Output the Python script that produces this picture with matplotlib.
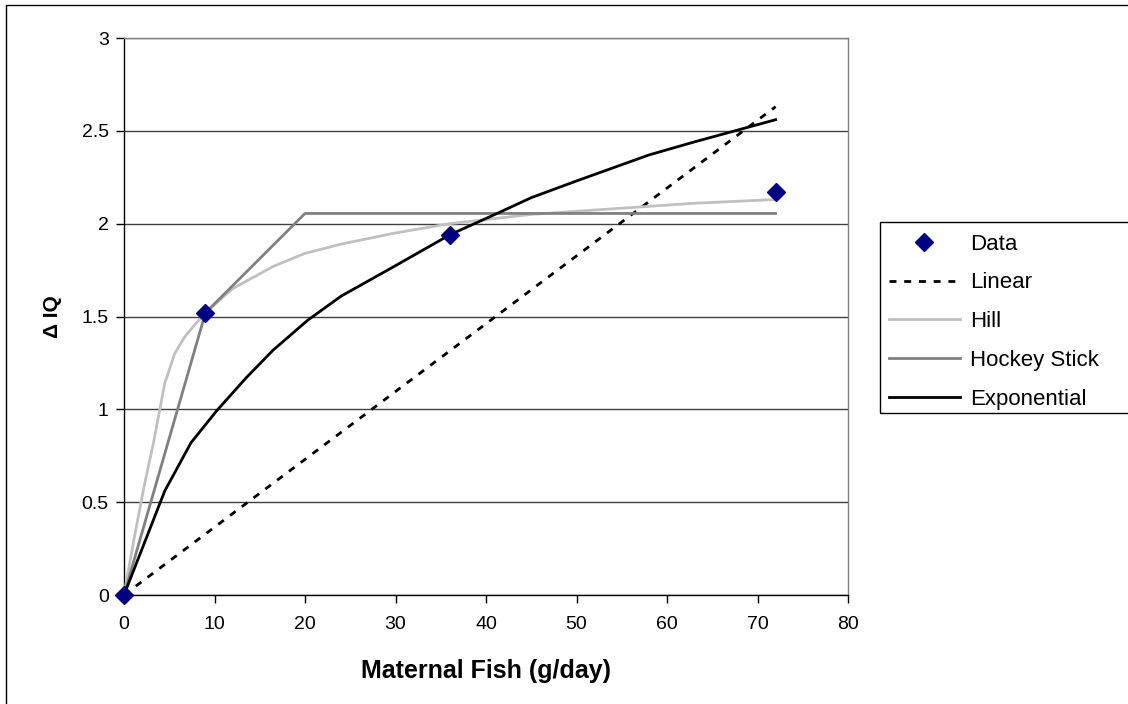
import matplotlib
matplotlib.use("Agg")
import matplotlib.pyplot as plt
from matplotlib.patches import Rectangle

plt.rcParams['font.family'] = ['Liberation Sans', 'DejaVu Sans']

# Observed fish intake vs. IQ change
data_x = [0, 9, 36, 72]
data_y = [0, 1.52, 1.94, 2.17]

# Linear model
linear_x = [0, 72]
linear_y = [0, 2.63]

# Hill model
hill_x = [0, 1.1, 2.2, 3.3, 4.5, 5.6, 6.7, 7.9, 9, 12, 16.5, 20, 24, 30, 36, 45, 54, 63, 72]
hill_y = [0, 0.30, 0.58, 0.83, 1.14, 1.30, 1.39, 1.46, 1.52, 1.65, 1.77, 1.84, 1.89, 1.95, 2.00, 2.05, 2.08, 2.11, 2.13]

# Hockey stick model
hockey_x = [0, 9, 20, 36, 72]
hockey_y = [0, 1.52, 2.055, 2.055, 2.055]

# Exponential model
expo_x = [0, 4.5, 7.4, 10.2, 13.5, 16.5, 20.3, 24, 29.5, 36, 41, 45, 50, 54, 58, 63, 67.5, 72]
expo_y = [0, 0.56, 0.82, 0.99, 1.17, 1.32, 1.48, 1.61, 1.76, 1.94, 2.05, 2.14, 2.23, 2.30, 2.37, 2.44, 2.50, 2.56]

x_ticks = [0, 10, 20, 30, 40, 50, 60, 70, 80]
y_ticks = [0, 0.5, 1, 1.5, 2, 2.5, 3]
y_tick_labels = ['0', '0.5', '1', '1.5', '2', '2.5', '3']

W, H = 1128, 704
fig = plt.figure(figsize=(W / 100, H / 100), dpi=100)
ax = fig.add_axes([124 / W, 1 - 595 / H, (848 - 124) / W, (595 - 38) / H])

ax.set_xlim(0, 80)
ax.set_ylim(0, 3)
ax.set_xticks(x_ticks)
ax.set_yticks(y_ticks)
ax.set_yticklabels(y_tick_labels)
ax.tick_params(axis='both', direction='out', length=6, width=1, labelsize=14, colors='black')
ax.tick_params(axis='y', pad=5)
ax.tick_params(axis='x', pad=9)
ax.grid(axis='y', color='#404040', linewidth=1)
ax.set_axisbelow(True)
for side in ('top', 'right'):
    ax.spines[side].set_color('#808080')
    ax.spines[side].set_linewidth(1)
for side in ('left', 'bottom'):
    ax.spines[side].set_color('black')
    ax.spines[side].set_linewidth(1)

lw = 2.0
ln_lin, = ax.plot(linear_x, linear_y, color='black', lw=lw, linestyle=(0, (2.5, 2.8)), label='Linear', zorder=3)
ln_hill, = ax.plot(hill_x, hill_y, color='#C0C0C0', lw=lw, label='Hill', zorder=3)
ln_hock, = ax.plot(hockey_x, hockey_y, color='#808080', lw=lw, label='Hockey Stick', zorder=3)
ln_exp, = ax.plot(expo_x, expo_y, color='black', lw=lw, label='Exponential', zorder=3)
pts, = ax.plot(data_x, data_y, linestyle='none', marker='D', markersize=9, color='#000080', label='Data', zorder=5, clip_on=False)

ax.set_xlabel('Maternal Fish (g/day)', fontsize=18, fontweight='bold', labelpad=19)
ax.set_ylabel('Δ IQ', fontsize=15, fontweight='bold', labelpad=14)

# legend box and entries
fig.patches.append(Rectangle((880 / W, 1 - 413 / H), 300 / W, (413 - 222) / H,
                             transform=fig.transFigure, fill=False, edgecolor='black', lw=1, zorder=1))
leg = fig.legend(handles=[pts, ln_lin, ln_hill, ln_hock, ln_exp],
                 loc='upper left', bbox_to_anchor=(882 / W, 1 - 227 / H),
                 frameon=False, fontsize=16, handlelength=3.2, handletextpad=0.45,
                 labelspacing=0.8, borderpad=0.3, borderaxespad=0)

# outer chart border
fig.patches.append(Rectangle((6 / W, -0.1), 1.2, 1 - 5 / H + 0.1,
                             transform=fig.transFigure, fill=False, edgecolor='black', lw=1))

fig.savefig('out.png', dpi=100)
